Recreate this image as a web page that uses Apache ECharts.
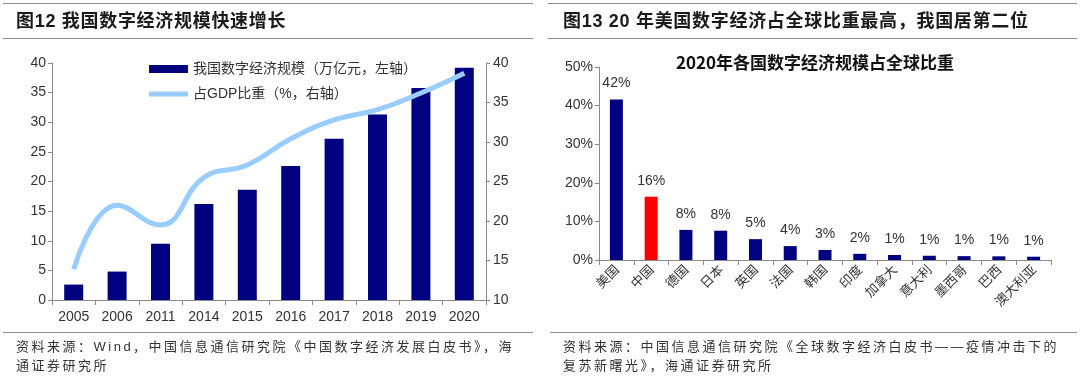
<!DOCTYPE html>
<html>
<head>
<meta charset="utf-8">
<script src="https://cdn.jsdelivr.net/npm/echarts@6/dist/echarts.min.js"></script>
<style>
html,body{margin:0;padding:0;background:#fff;}
#wrap{position:relative;width:1080px;height:382px;overflow:hidden;font-family:"Liberation Sans","Noto Sans CJK SC",sans-serif;}
#chart{position:absolute;left:0;top:0;width:1080px;height:382px;}
.hl{position:absolute;height:0;border-top:1.5px solid #8c8c8c;}
.head{position:absolute;font-weight:bold;font-size:18px;letter-spacing:0.7px;color:#1a1a1a;line-height:22px;white-space:nowrap;}
.foot{position:absolute;font-size:13px;letter-spacing:2.5px;color:#333;line-height:18.5px;white-space:nowrap;font-family:"Liberation Sans","Noto Sans CJK SC",sans-serif;}
</style>
</head>
<body>
<div id="wrap">
  <div id="chart"></div>
  <div class="hl" style="left:3px;width:530px;top:3px;"></div>
  <div class="hl" style="left:3px;width:530px;top:38px;"></div>
  <div class="hl" style="left:548px;width:529px;top:3px;"></div>
  <div class="hl" style="left:548px;width:529px;top:38px;"></div>
  <div class="head" style="left:16px;top:10px;">图12&nbsp;我国数字经济规模快速增长</div>
  <div class="head" style="left:563px;top:10px;">图13&nbsp;20 年美国数字经济占全球比重最高，我国居第二位</div>
  <div class="hl" style="left:3px;width:530px;top:332px;"></div>
  <div class="hl" style="left:550px;width:527px;top:332px;"></div>
  <div class="foot" style="left:16px;top:338px;">资料来源：Wind，中国信息通信研究院《中国数字经济发展白皮书》，海<br>通证券研究所</div>
  <div class="foot" style="left:563px;top:338px;">资料来源：中国信息通信研究院《全球数字经济白皮书——疫情冲击下的<br>复苏新曙光》，海通证券研究所</div>
</div>
<script>
// ---- Left chart data ----
const years = ['2005','2006','2011','2014','2015','2016','2017','2018','2019','2020'];
const scaleValues = [2.6, 4.8, 9.5, 16.2, 18.6, 22.6, 27.2, 31.3, 35.8, 39.2];
const gdpShare = [13.9, 22.0, 19.5, 25.5, 27.1, 30.4, 32.8, 34.1, 36.2, 38.7];
const leftTicks = [0, 40, 5];
const rightTicks = [10, 40, 5];
const barName = '我国数字经济规模（万亿元，左轴）';
const lineName = '占GDP比重（%，右轴）';

// ---- Right chart data ----
const countries = ['美国','中国','德国','日本','英国','法国','韩国','印度','加拿大','意大利','墨西哥','巴西','澳大利亚'];
const globalShare = [41.6, 16.4, 7.8, 7.6, 5.4, 3.6, 2.6, 1.6, 1.3, 1.1, 1.0, 0.95, 0.85];
const highlight = '中国';
const rightTitle = '2020年各国数字经济规模占全球比重';

const FONT = '"Liberation Sans","Noto Sans CJK SC",sans-serif';
const NAVY = '#000080';
const LIGHT = '#99ccff';
const AXIS = '#8a8a8a';
const TXT = '#333';

const chart = echarts.init(document.getElementById('chart'), null, {renderer: 'canvas'});
chart.setOption({
  animation: false,
  textStyle: {fontFamily: FONT},
  grid: [
    {left: 52, right: 594, top: 63, bottom: 82},
    {left: 599, right: 29, top: 67, bottom: 122}
  ],
  legend: [
    {data: [barName], left: 144, top: 57, icon: 'rect', itemWidth: 39, itemHeight: 8, itemGap: 10,
     textStyle: {fontSize: 14, color: TXT, fontFamily: FONT}},
    {data: [lineName], left: 144, top: 82, icon: 'rect', itemWidth: 39, itemHeight: 5, itemGap: 10,
     textStyle: {fontSize: 14, color: TXT, fontFamily: FONT}}
  ],
  graphic: [
    {type: 'text', x: 815, y: 63, style: {text: rightTitle, font: 'bold 17px "Noto Sans CJK SC", sans-serif', fill: '#111', textAlign: 'center', textVerticalAlign: 'middle'}}
  ],
  xAxis: [
    {type: 'category', gridIndex: 0, data: years, boundaryGap: true,
     axisLine: {lineStyle: {color: AXIS}}, axisTick: {show: true, length: 5, lineStyle: {color: AXIS}},
     axisLabel: {fontSize: 14, color: TXT, margin: 10, interval: 0}},
    {type: 'category', gridIndex: 1, data: countries, boundaryGap: true,
     axisLine: {lineStyle: {color: AXIS}}, axisTick: {show: true, length: 5, lineStyle: {color: AXIS}},
     axisLabel: {fontSize: 13, color: TXT, margin: 7, rotate: 45, interval: 0, fontFamily: '"Noto Sans CJK SC", sans-serif'}}
  ],
  yAxis: [
    {type: 'value', gridIndex: 0, min: leftTicks[0], max: leftTicks[1], interval: leftTicks[2], position: 'left',
     axisLine: {show: true, lineStyle: {color: AXIS}}, axisTick: {show: true, length: 4, lineStyle: {color: AXIS}},
     splitLine: {show: false}, axisLabel: {fontSize: 14, color: TXT, margin: 6}},
    {type: 'value', gridIndex: 0, min: rightTicks[0], max: rightTicks[1], interval: rightTicks[2], position: 'right',
     axisLine: {show: true, lineStyle: {color: AXIS}}, axisTick: {show: true, length: 4, lineStyle: {color: AXIS}},
     splitLine: {show: false}, axisLabel: {fontSize: 14, color: TXT, margin: 7}},
    {type: 'value', gridIndex: 1, min: 0, max: 50, interval: 10,
     axisLine: {show: true, lineStyle: {color: AXIS}}, axisTick: {show: true, length: 4, lineStyle: {color: AXIS}},
     splitLine: {show: false}, axisLabel: {fontSize: 14, color: TXT, margin: 6, formatter: '{value}%'}}
  ],
  series: [
    {name: barName, type: 'bar', xAxisIndex: 0, yAxisIndex: 0, data: scaleValues, barWidth: 19,
     itemStyle: {color: NAVY}},
    {name: lineName, type: 'line', xAxisIndex: 0, yAxisIndex: 1, data: gdpShare, smooth: 0.45,
     showSymbol: false, symbol: 'none', lineStyle: {color: LIGHT, width: 5}, itemStyle: {color: LIGHT}, z: 5},
    {name: 'share', type: 'bar', xAxisIndex: 1, yAxisIndex: 2, barWidth: 13,
     data: globalShare.map((v, i) => ({value: v, itemStyle: {color: countries[i] === highlight ? '#ff0000' : NAVY}})),
     label: {show: true, position: 'top', distance: 9, fontSize: 14, color: TXT,
             formatter: p => Math.round(p.value) + '%'}}
  ]
});
</script>
</body>
</html>
